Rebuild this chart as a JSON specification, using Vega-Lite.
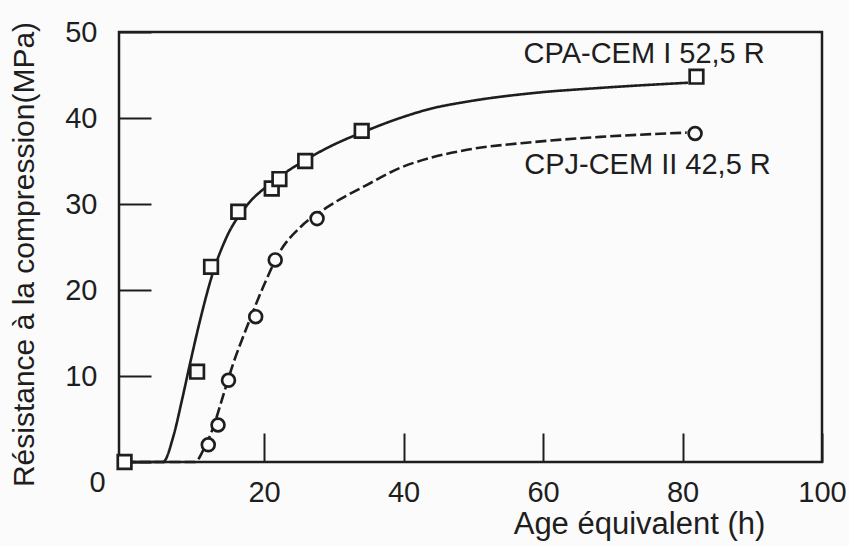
{
  "$schema": "https://vega.github.io/schema/vega-lite/v6.json",
  "width": 703,
  "height": 430,
  "autosize": {"type": "none"},
  "padding": {"left": 119, "top": 32, "right": 27, "bottom": 84},
  "background": "#fbfbfb",
  "config": {
    "font": "Liberation Sans",
    "view": {"stroke": "#1e1e1e", "strokeWidth": 2.5},
    "axis": {
      "grid": false,
      "domain": false,
      "labelColor": "#1e1e1e",
      "titleColor": "#1e1e1e",
      "tickColor": "#1e1e1e",
      "tickWidth": 2,
      "labelFontSize": 29,
      "titleFontSize": 30,
      "titleFontWeight": "normal",
      "labelOverlap": false,
      "labelFlush": false
    }
  },
  "datasets": {
    "curves": [
      {"ciment": "CPA", "age": 0, "mpa": 0},
      {"ciment": "CPA", "age": 5.5, "mpa": 0},
      {"ciment": "CPA", "age": 7.0, "mpa": 3.0},
      {"ciment": "CPA", "age": 8.2, "mpa": 7.1},
      {"ciment": "CPA", "age": 9.4, "mpa": 11.5},
      {"ciment": "CPA", "age": 10.8, "mpa": 16.4},
      {"ciment": "CPA", "age": 12.7, "mpa": 22.1},
      {"ciment": "CPA", "age": 14.6, "mpa": 26.1},
      {"ciment": "CPA", "age": 17.5, "mpa": 29.8},
      {"ciment": "CPA", "age": 21.3, "mpa": 32.6},
      {"ciment": "CPA", "age": 26.1, "mpa": 35.2},
      {"ciment": "CPA", "age": 30.0, "mpa": 36.9},
      {"ciment": "CPA", "age": 34.0, "mpa": 38.3},
      {"ciment": "CPA", "age": 39.5, "mpa": 40.0},
      {"ciment": "CPA", "age": 44.0, "mpa": 41.1},
      {"ciment": "CPA", "age": 49.1, "mpa": 41.9},
      {"ciment": "CPA", "age": 58.6, "mpa": 42.9},
      {"ciment": "CPA", "age": 68.2, "mpa": 43.5},
      {"ciment": "CPA", "age": 80.8, "mpa": 44.1},
      {"ciment": "CPJ", "age": 0, "mpa": 0},
      {"ciment": "CPJ", "age": 10.1, "mpa": 0},
      {"ciment": "CPJ", "age": 11.3, "mpa": 1.4},
      {"ciment": "CPJ", "age": 12.7, "mpa": 4.0},
      {"ciment": "CPJ", "age": 14.2, "mpa": 7.9},
      {"ciment": "CPJ", "age": 15.6, "mpa": 11.5},
      {"ciment": "CPJ", "age": 17.5, "mpa": 15.6},
      {"ciment": "CPJ", "age": 19.9, "mpa": 20.4},
      {"ciment": "CPJ", "age": 22.3, "mpa": 24.5},
      {"ciment": "CPJ", "age": 25.2, "mpa": 27.3},
      {"ciment": "CPJ", "age": 29.0, "mpa": 29.6},
      {"ciment": "CPJ", "age": 34.7, "mpa": 32.2},
      {"ciment": "CPJ", "age": 39.5, "mpa": 34.2},
      {"ciment": "CPJ", "age": 44.0, "mpa": 35.4},
      {"ciment": "CPJ", "age": 49.1, "mpa": 36.3},
      {"ciment": "CPJ", "age": 58.6, "mpa": 37.2},
      {"ciment": "CPJ", "age": 68.2, "mpa": 37.8},
      {"ciment": "CPJ", "age": 80.6, "mpa": 38.3}
    ],
    "points": [
      {"ciment": "CPA", "age": 0, "mpa": 0},
      {"ciment": "CPA", "age": 10.4, "mpa": 10.5},
      {"ciment": "CPA", "age": 12.4, "mpa": 22.7},
      {"ciment": "CPA", "age": 16.3, "mpa": 29.1},
      {"ciment": "CPA", "age": 21.1, "mpa": 31.8},
      {"ciment": "CPA", "age": 22.2, "mpa": 32.9},
      {"ciment": "CPA", "age": 25.9, "mpa": 35.0},
      {"ciment": "CPA", "age": 34.0, "mpa": 38.5},
      {"ciment": "CPA", "age": 82.0, "mpa": 44.8},
      {"ciment": "CPJ", "age": 12.0, "mpa": 2.0},
      {"ciment": "CPJ", "age": 13.4, "mpa": 4.3},
      {"ciment": "CPJ", "age": 14.9, "mpa": 9.5},
      {"ciment": "CPJ", "age": 18.8, "mpa": 16.9},
      {"ciment": "CPJ", "age": 21.6, "mpa": 23.5},
      {"ciment": "CPJ", "age": 27.6, "mpa": 28.3},
      {"ciment": "CPJ", "age": 81.8, "mpa": 38.2}
    ],
    "labels": [
      {"label": "CPA-CEM I 52,5 R", "age": 57.2, "mpa": 46.45},
      {"label": "CPJ-CEM II 42,5 R", "age": 57.3, "mpa": 33.5}
    ]
  },
  "layer": [
    {
      "data": {"name": "curves"},
      "mark": {"type": "line", "interpolate": "monotone", "strokeWidth": 2.6, "color": "#1e1e1e"},
      "encoding": {
        "x": {
          "field": "age",
          "type": "quantitative",
          "scale": {"domain": [-0.8, 100], "nice": false, "zero": false},
          "axis": {
            "values": [20, 40, 60, 80, 100],
            "title": "Age équivalent (h)",
            "titleFontSize": 31,
            "titleX": 520,
            "titleY": 71,
            "titleAlign": "center",
            "titleBaseline": "alphabetic",
            "tickSize": -29,
            "labelPadding": 45
          }
        },
        "y": {
          "field": "mpa",
          "type": "quantitative",
          "scale": {"domain": [0, 50], "nice": false},
          "axis": {
            "values": [0, 10, 20, 30, 40, 50],
            "title": "Résistance à la compression(MPa)",
            "titleFontSize": 30,
            "titleAngle": -90,
            "titleX": -86,
            "titleY": 222,
            "titleAlign": "center",
            "titleBaseline": "alphabetic",
            "tickSize": -32,
            "labelPadding": 54,
            "labelAlign": {"condition": {"test": "datum.value === 0", "value": "center"}, "value": "right"},
            "labelOffset": {"condition": {"test": "datum.value === 0", "value": 20}, "value": 0}
          }
        },
        "strokeDash": {
          "field": "ciment",
          "type": "nominal",
          "scale": {"domain": ["CPA", "CPJ"], "range": [[1, 0], [11, 4]]},
          "legend": null
        }
      }
    },
    {
      "data": {"name": "points"},
      "mark": {"type": "point", "filled": false, "fill": "#fbfbfb", "fillOpacity": 1, "opacity": 1, "strokeWidth": 2.7, "color": "#1e1e1e"},
      "encoding": {
        "x": {"field": "age", "type": "quantitative"},
        "y": {"field": "mpa", "type": "quantitative"},
        "shape": {
          "field": "ciment",
          "type": "nominal",
          "scale": {"domain": ["CPA", "CPJ"], "range": ["square", "circle"]},
          "legend": null
        },
        "size": {
          "field": "ciment",
          "type": "nominal",
          "scale": {"domain": ["CPA", "CPJ"], "range": [185, 165]},
          "legend": null
        }
      }
    },
    {
      "data": {"name": "labels"},
      "mark": {"type": "text", "align": "left", "baseline": "alphabetic", "fontSize": 29, "color": "#1e1e1e"},
      "encoding": {
        "x": {"field": "age", "type": "quantitative"},
        "y": {"field": "mpa", "type": "quantitative"},
        "text": {"field": "label"}
      }
    }
  ]
}
